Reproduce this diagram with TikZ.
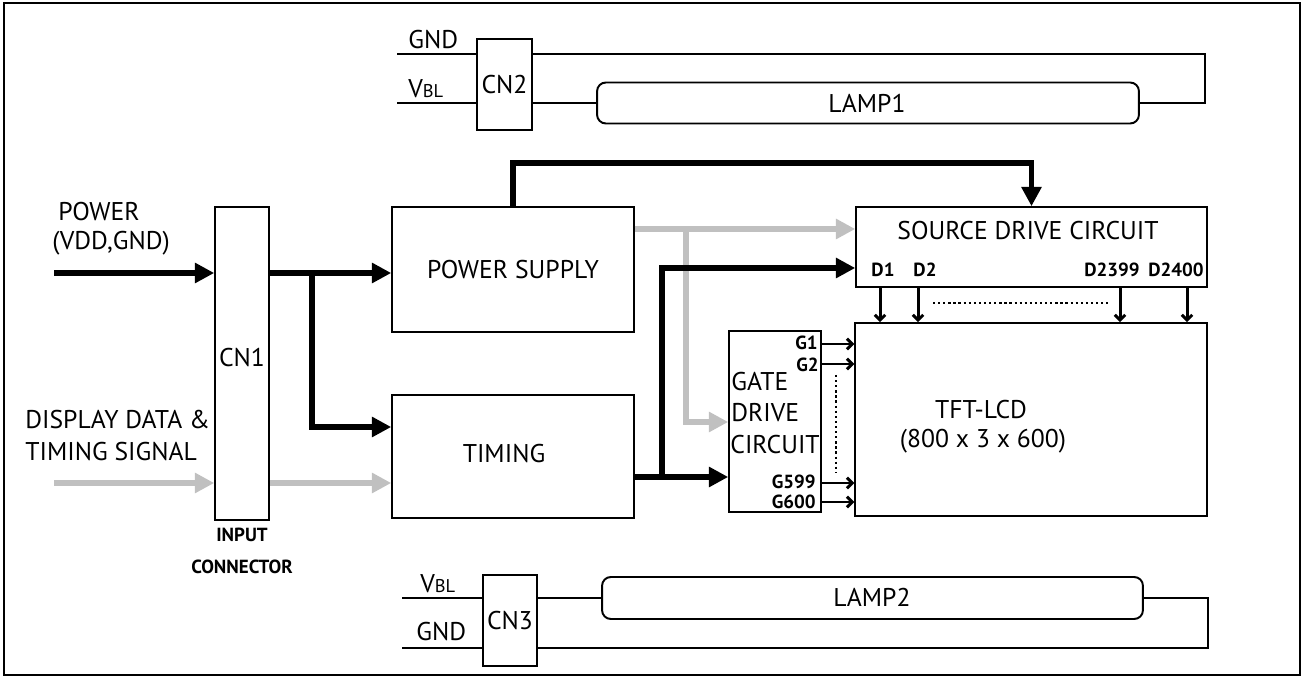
\documentclass[tikz,border=0pt]{standalone}
\usepackage{fontspec}
\setmainfont{PT Sans}
\usetikzlibrary{arrows.meta}
\definecolor{sig}{RGB}{192,192,192}
\begin{document}
\begin{tikzpicture}[x=0.02cm,y=-0.02cm,
  bx/.style 2 args={draw,line width=0.9pt,inner sep=0pt,minimum width=#1,minimum height=#2},
  lampbox/.style 2 args={draw,line width=1.1pt,rounded corners=5pt,inner sep=0pt,minimum width=#1,minimum height=#2},
  thk/.style={line width=3.4pt,-{Triangle[length=11pt,width=11pt]}},
  gry/.style={draw=sig,line width=3.4pt,-{Triangle[length=11pt,width=11pt,fill=sig]}},
  thn/.style={line width=1.7pt,-{Straight Barb[length=3pt,width=6pt]}},
  wire/.style={line width=1.1pt},
  dots/.style={line width=1.3pt,dash pattern=on 1.3pt off 1.6pt},
  lbl/.style={font=\fontsize{14.6}{16}\selectfont,inner sep=0pt},
  sml/.style={font=\bfseries\fontsize{10.8}{12}\selectfont,inner sep=0pt}]
\useasboundingbox (0,0) rectangle (1302,678);
\draw[line width=0.8pt] (4,3) rectangle (1300,675);

% boxes
\node[bx={1.1cm}{1.82cm}] (cn2) at (504.5,84.5) {};
\node[bx={1.08cm}{1.82cm}] (cn3) at (510,620.5) {};
\node[lampbox={10.84cm}{0.82cm}] (lamp1) at (868,103) {};
\node[lampbox={10.82cm}{0.84cm}] (lamp2) at (872.5,598) {};
\node[bx={1.08cm}{6.26cm}] (cn1) at (242,363.5) {};
\node[bx={4.84cm}{2.5cm}] (ps) at (513,269.5) {};
\node[bx={4.84cm}{2.46cm}] (tim) at (513,456.5) {};
\node[bx={7.02cm}{1.6cm}] (src) at (1031.5,247) {};
\node[bx={1.84cm}{3.62cm}] (gate) at (775,421.5) {};
\node[bx={7.04cm}{3.86cm}] (tft) at (1031,419.5) {};

% texts
\node[lbl] (t-cn2) at (cn2.center) {CN2};
\node[lbl] (t-cn3) at (cn3.center) {CN3};
\node[lbl] (t-cn1) at (242,358) {CN1};
\node[lbl] (t-l1) at (867,103) {LAMP1};
\node[lbl] (t-l2) at (872,597) {LAMP2};
\node[lbl,anchor=base west] (t-g2) at (408,49) {GND};
\node[lbl,anchor=base west] (t-v2) at (408,98) {V{\fontsize{10.5}{11}\selectfont BL}};
\node[lbl,anchor=base west] (t-v3) at (420,593) {V{\fontsize{10.5}{11}\selectfont BL}};
\node[lbl,anchor=base west] (t-g3) at (416,641) {GND};
\node[lbl,anchor=west] (t-pw) at (58,212) {POWER};
\node[lbl,anchor=west] (t-vdd) at (52,243) {(VDD,GND)};
\node[lbl,anchor=west] (t-dd) at (25,420) {DISPLAY DATA \&};
\node[lbl,anchor=west] (t-ts) at (25,452) {TIMING SIGNAL};
\node[sml] (t-in) at (242,535) {INPUT};
\node[sml] (t-con) at (242,567) {CONNECTOR};
\node[lbl] (t-ps) at (513,270) {POWER SUPPLY};
\node[lbl] (t-tim) at (504,454) {TIMING};
\node[lbl] (t-src) at (1028,231) {SOURCE DRIVE CIRCUIT};
\node[sml] (t-d1) at (883,270) {D1};
\node[sml] (t-d2) at (925,270) {D2};
\node[sml] (t-d3) at (1112,270) {D2399};
\node[sml] (t-d4) at (1176,270) {D2400};
\node[lbl,anchor=west] (t-ga) at (731,382) {GATE};
\node[lbl,anchor=west] (t-gb) at (731,413) {DRIVE};
\node[lbl,anchor=west] (t-gc) at (730,445) {CIRCUIT};
\node[sml,anchor=east] (t-g1) at (818,343) {G1};
\node[sml,anchor=east] (t-g2n) at (819,365) {G2};
\node[sml,anchor=east] (t-g599) at (816,482) {G599};
\node[sml,anchor=east] (t-g600) at (816,502) {G600};
\node[lbl] (t-tft) at (981,410) {TFT-LCD};
\node[lbl] (t-res) at (983,441) {(800 x 3 x 600)};

% lamp wiring
\coordinate (g2a) at (397,54);
\coordinate (v2a) at (397,103);
\coordinate (r2) at (1205,54);
\draw[wire] (g2a) -- (g2a -| cn2.west);
\draw[wire] (g2a -| cn2.east) -- (r2) |- (lamp1.east);
\draw[wire] (v2a) -- (v2a -| cn2.west);
\draw[wire] (v2a -| cn2.east) -- (lamp1.west);
\coordinate (v3a) at (402,598);
\coordinate (g3a) at (402,648);
\coordinate (r3) at (1208,648);
\draw[wire] (v3a) -- (v3a -| cn3.west);
\draw[wire] (v3a -| cn3.east) -- (lamp2.west);
\draw[wire] (g3a) -- (g3a -| cn3.west);
\draw[wire] (g3a -| cn3.east) -- (r3) |- (lamp2.east);

% main signal paths
\coordinate (pin) at (54,273);
\coordinate (din) at (54,483);
\coordinate (br) at (312,273);
\coordinate (tinY) at (0,427);
\draw[thk] (pin) -- (pin -| cn1.west);
\draw[thk] (pin -| cn1.east) -- (pin -| ps.west);
\draw[thk] (br) |- (tim.west |- tinY);
\draw[gry] (din) -- (din -| cn1.west);
\draw[gry] (din -| cn1.east) -- (din -| tim.west);

\coordinate (tl) at (513,163);
\draw[thk] (ps.north) -- (tl) -| (src.north);

\coordinate (gy) at (0,229);
\coordinate (gv) at (686,229);
\coordinate (gg) at (0,422);
\draw[gry] (ps.east |- gy) -- (src.west |- gy);
\draw[gry] (gv) |- (gate.west |- gg);

\coordinate (by) at (0,477);
\coordinate (bv) at (662,477);
\coordinate (sy) at (0,268);
\draw[thk] (tim.east |- by) -- (gate.west |- by);
\draw[thk] (bv) |- (src.west |- sy);

% D outputs
\foreach \xx in {880,918,1120,1187}{
  \coordinate (dx) at (\xx,0);
  \draw[thn] (src.south -| dx) -- (tft.north -| dx);
}
\coordinate (dl) at (933,303);
\coordinate (dr) at (1108,303);
\draw[dots] (dl) -- (dr);

% G outputs
\foreach \yy in {344,364,483,502}{
  \coordinate (gyy) at (0,\yy);
  \draw[thn] (gate.east |- gyy) -- (tft.west |- gyy);
}
\coordinate (vt) at (836,375);
\coordinate (vb) at (836,472);
\draw[dots] (vt) -- (vb);
\end{tikzpicture}
\end{document}
